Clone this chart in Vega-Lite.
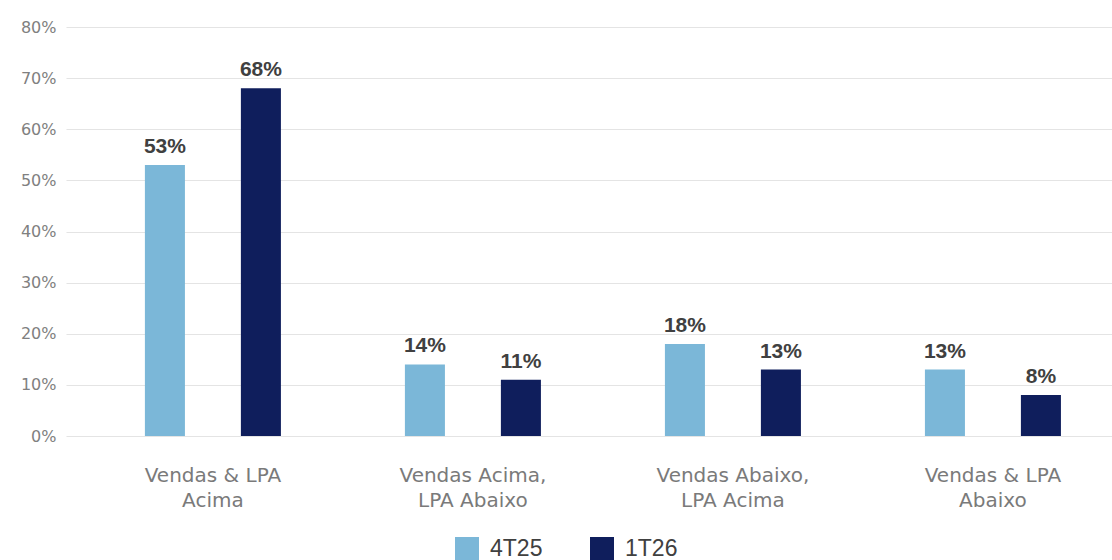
{
  "$schema": "https://vega.github.io/schema/vega-lite/v6.json",
  "autosize": "none",
  "width": 1046,
  "height": 409,
  "padding": {"left": 66, "top": 27, "right": 0, "bottom": 124},
  "background": "white",
  "data": {
    "values": [
      {"cat": "Vendas & LPA|Acima", "serie": "4T25", "valor": 0.53},
      {"cat": "Vendas & LPA|Acima", "serie": "1T26", "valor": 0.68},
      {"cat": "Vendas Acima,|LPA Abaixo", "serie": "4T25", "valor": 0.14},
      {"cat": "Vendas Acima,|LPA Abaixo", "serie": "1T26", "valor": 0.11},
      {"cat": "Vendas Abaixo,|LPA Acima", "serie": "4T25", "valor": 0.18},
      {"cat": "Vendas Abaixo,|LPA Acima", "serie": "1T26", "valor": 0.13},
      {"cat": "Vendas & LPA|Abaixo", "serie": "4T25", "valor": 0.13},
      {"cat": "Vendas & LPA|Abaixo", "serie": "1T26", "valor": 0.08}
    ]
  },
  "encoding": {
    "x": {
      "field": "cat",
      "type": "nominal",
      "sort": null,
      "scale": {"paddingInner": 0.2, "paddingOuter": 0.1115, "align": 0.74},
      "axis": {
        "title": null,
        "labelAngle": 0,
        "labelExpr": "split(datum.label, '|')",
        "labelFont": "DejaVu Sans",
        "labelFontSize": 20,
        "labelColor": "#7a7a7a",
        "labelLineHeight": 25,
        "labelPadding": 29,
        "labelLimit": 400,
        "domain": false,
        "ticks": false
      }
    },
    "xOffset": {
      "field": "serie",
      "type": "nominal",
      "sort": ["4T25", "1T26"],
      "scale": {"paddingInner": 0.583, "paddingOuter": 0.375}
    },
    "y": {
      "field": "valor",
      "type": "quantitative",
      "scale": {"domain": [0, 0.8], "nice": false},
      "axis": {
        "title": null,
        "values": [0, 0.1, 0.2, 0.3, 0.4, 0.5, 0.6, 0.7, 0.8],
        "format": ".0%",
        "labelFont": "DejaVu Sans",
        "labelFontSize": 16,
        "labelColor": "#808080",
        "labelPadding": 10,
        "domain": false,
        "ticks": false,
        "gridColor": "#e4e4e4",
        "gridWidth": 1.2
      }
    }
  },
  "layer": [
    {
      "mark": {"type": "bar"},
      "encoding": {
        "color": {
          "field": "serie",
          "type": "nominal",
          "sort": ["4T25", "1T26"],
          "scale": {"domain": ["4T25", "1T26"], "range": ["#7bb7d8", "#0f1e5c"]},
          "legend": {
            "title": null,
            "orient": "none",
            "direction": "horizontal",
            "legendX": 389,
            "legendY": 510,
            "padding": 0,
            "symbolType": "square",
            "symbolSize": 576,
            "symbolStrokeWidth": 0,
            "labelFont": "Liberation Sans",
            "labelFontSize": 23,
            "labelColor": "#404040",
            "labelOffset": 11,
            "columnPadding": 47
          }
        }
      }
    },
    {
      "mark": {
        "type": "text",
        "baseline": "alphabetic",
        "dy": -12,
        "font": "Liberation Sans",
        "fontWeight": "bold",
        "fontSize": 21,
        "color": "#404040"
      },
      "encoding": {
        "text": {"field": "valor", "type": "quantitative", "format": ".0%"}
      }
    }
  ],
  "config": {"view": {"stroke": null}}
}
